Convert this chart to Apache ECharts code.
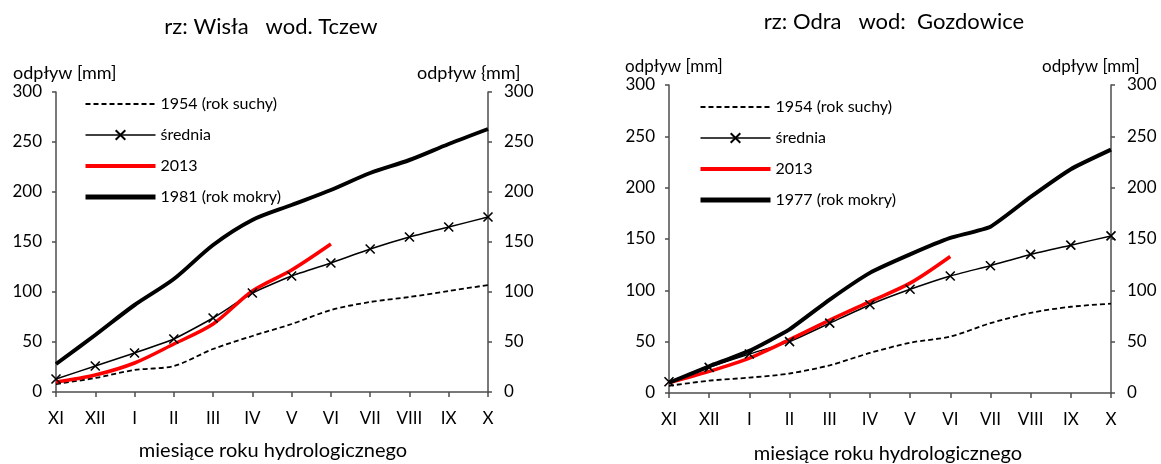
<!DOCTYPE html>
<html><head><meta charset="utf-8">
<script src="https://cdn.jsdelivr.net/npm/echarts@6/dist/echarts.min.js"></script>
<style>html,body{margin:0;padding:0;background:#fff;width:1161px;height:464px;overflow:hidden}
#c1{position:absolute;left:0;top:0;width:580px;height:464px}
#c2{position:absolute;left:580px;top:0;width:581px;height:464px}</style>
</head><body><div id="c1"></div><div id="c2"></div>
<script>
const months = ['XI','XII','I','II','III','IV','V','VI','VII','VIII','IX','X'];
const yMin = 0, yMax = 300, yStep = 50;

const wislaDry1954 = [8,14,22,26,43,56,68,82,90,95,101,107];
const wislaMean = [13,26,39,53,74,99,116,129,143,155,165,175];
const wisla2013 = [10,17,29,48,68,101,122,148];
const wislaWet1981 = [28,57,87,113,147,172,187,202,219,232,248,263];

const odraDry1954 = [7,12,15,19,27,39,49,55,68,78,84,87];
const odraMean = [11,25,38,50,68,86,101,114,124,135,144,153];
const odra2013 = [10,21,34,52,71,89,107,133];
const odraWet1977 = [10,26,41,62,91,117,135,151,162,191,218,237];

const FONT = 'Lato, "Liberation Sans", sans-serif';
const AX = '#4d4d4d';
const xMark = 'path://M0,0 L10,10 M10,0 L0,10';

function yAxis(pos, margin) {
  return {
    type: 'value', position: pos, min: yMin, max: yMax, interval: yStep,
    axisLine: {show: true, lineStyle: {color: AX, width: 1.5}},
    axisTick: {show: true, length: 4, lineStyle: {color: AX, width: 1.5}},
    axisLabel: {color: '#000', fontSize: 17, fontFamily: FONT, margin: margin},
    splitLine: {show: false}
  };
}

function build(cfg) {
  const hide = {opacity: 0};
  return {
    animation: false,
    backgroundColor: '#fff',
    grid: cfg.grid,
    legend: {
      orient: 'vertical', left: cfg.legendLeft, top: cfg.legendTop, padding: 0,
      itemWidth: 70, itemHeight: 12, itemGap: 15,
      textStyle: {color: '#000', fontSize: 16, lineHeight: 16, fontFamily: FONT},
      data: [
        {name: cfg.names[0], itemStyle: hide, lineStyle: {width: 1.8, color: '#000', type: [5, 3]}},
        {name: cfg.names[1], lineStyle: {width: 1.5, color: '#000'}},
        {name: cfg.names[2], itemStyle: hide, lineStyle: {width: 4, color: '#ff0000'}},
        {name: cfg.names[3], itemStyle: hide, lineStyle: {width: 5, color: '#000'}}
      ]
    },
    xAxis: {
      type: 'category', data: months, boundaryGap: false,
      axisLine: {show: true, lineStyle: {color: AX, width: 1.5}},
      axisTick: {show: true, length: 5, lineStyle: {color: AX, width: 1.5}},
      axisLabel: {color: '#000', fontSize: 17, fontFamily: FONT, margin: 18, interval: 0},
      splitLine: {show: false}
    },
    yAxis: [yAxis('left', 14), yAxis('right', 16)],
    series: [
      {name: cfg.names[0], type: 'line', data: cfg.dry, smooth: 0.3, symbol: 'none',
       lineStyle: {color: '#000', width: 1.8, type: [5, 3]}, itemStyle: {color: '#000'}},
      {name: cfg.names[1], type: 'line', data: cfg.mean, smooth: 0.15, symbol: xMark, symbolSize: 9,
       lineStyle: {color: '#000', width: 1.5}, itemStyle: {color: '#000', borderColor: '#000', borderWidth: 1.6}},
      {name: cfg.names[2], type: 'line', data: cfg.y2013, smooth: 0.3, symbol: 'none',
       lineStyle: {color: '#ff0000', width: 3.5}, itemStyle: {color: '#ff0000'}},
      {name: cfg.names[3], type: 'line', data: cfg.wet, smooth: cfg.wetSmooth, symbol: 'none',
       lineStyle: {color: '#000', width: 4}, itemStyle: {color: '#000'}}
    ],
    graphic: cfg.texts.map(t => ({
      type: 'text', x: t.x, y: t.y,
      style: {text: t.text, fill: '#000', font: t.size + 'px ' + FONT, textAlign: t.align, textVerticalAlign: 'middle'}
    }))
  };
}

const c1 = echarts.init(document.getElementById('c1'));
c1.setOption(build({
  grid: {left: 56, right: 92, top: 92, bottom: 72},
  legendLeft: 83, legendTop: 96, wetSmooth: 0.3,
  names: ['1954 (rok suchy)', 'średnia', '2013', '1981 (rok mokry)'],
  dry: wislaDry1954, mean: wislaMean, y2013: wisla2013, wet: wislaWet1981,
  texts: [
    {text: 'rz: Wisła   wod. Tczew', x: 271, y: 27, size: 22, align: 'center'},
    {text: 'odpływ [mm]', x: 13, y: 73, size: 18, align: 'left'},
    {text: 'odpływ {mm]', x: 417, y: 73, size: 18, align: 'left'},
    {text: 'miesiące roku hydrologicznego', x: 273, y: 451, size: 20, align: 'center'}
  ]
}));

const c2 = echarts.init(document.getElementById('c2'));
c2.setOption(build({
  grid: {left: 89, right: 50, top: 85, bottom: 71},
  legendLeft: 118, legendTop: 99, wetSmooth: 0.15,
  names: ['1954 (rok suchy)', 'średnia', '2013', '1977 (rok mokry)'],
  dry: odraDry1954, mean: odraMean, y2013: odra2013, wet: odraWet1977,
  texts: [
    {text: 'rz: Odra   wod:  Gozdowice', x: 314, y: 22, size: 22, align: 'center'},
    {text: 'odpływ [mm]', x: 45, y: 67, size: 17, align: 'left'},
    {text: 'odpływ [mm]', x: 462, y: 67, size: 17, align: 'left'},
    {text: 'miesiące roku hydrologicznego', x: 308, y: 454, size: 20, align: 'center'}
  ]
}));
</script></body></html>
